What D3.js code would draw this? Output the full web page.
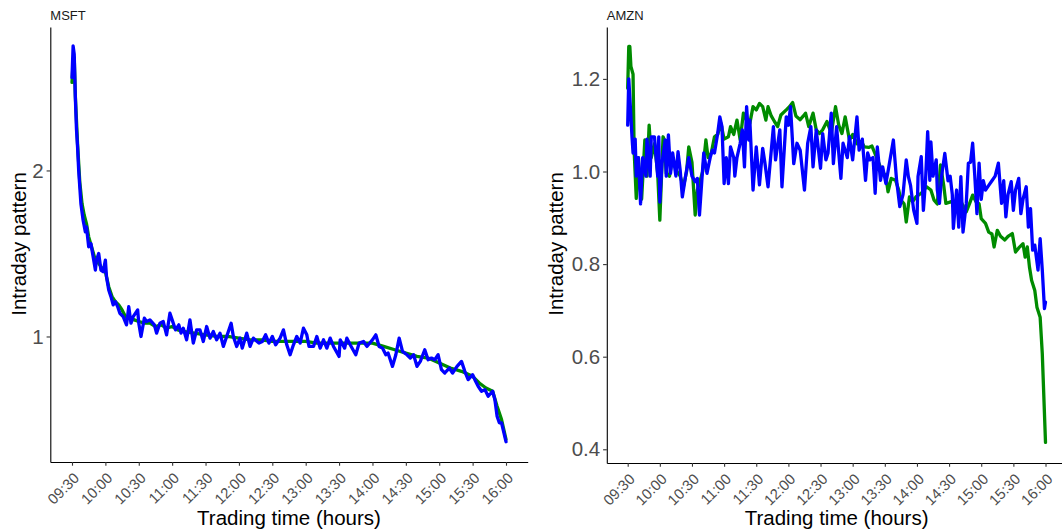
<!DOCTYPE html>
<html>
<head>
<meta charset="utf-8">
<script src="https://cdn.jsdelivr.net/npm/d3@7"></script>
<style>
  html, body { margin: 0; padding: 0; background: #fff; }
  svg { display: block; font-family: "Liberation Sans", Arial, sans-serif; }
</style>
</head>
<body>
<svg id="chart" width="1062" height="531"></svg>
<script>
// ---------------- data (minutes after 09:30, value) ----------------
const tickLabels = ["09:30","10:00","10:30","11:00","11:30","12:00","12:30","13:00","13:30","14:00","14:30","15:00","15:30","16:00"];
const panelNames = ["MSFT", "AMZN"];
const msftTicks = [1, 2];
const amznTicks = [0.4, 0.6, 0.8, 1.0, 1.2];

const msftGreen = [[0,2.53],[1,2.65],[2,2.68],[3,2.45],[5,2.16],[7,1.93],[9,1.80],[11,1.73],[13,1.68],[15,1.60],[18,1.53],[21,1.46],[24,1.44],[27,1.41],[30,1.39],[33,1.30],[36,1.24],[39,1.21],[42,1.19],[45,1.16],[48,1.12],[52,1.11],[56,1.10],[60,1.09],[65,1.08],[70,1.08],[75,1.06],[80,1.07],[85,1.05],[90,1.06],[95,1.04],[100,1.03],[110,1.02],[120,1.01],[130,1.00],[140,1.00],[150,0.99],[160,0.98],[170,0.98],[180,0.97],[190,0.97],[200,0.97],[210,0.97],[220,0.96],[230,0.96],[240,0.96],[250,0.96],[260,0.96],[270,0.96],[280,0.94],[290,0.92],[300,0.90],[310,0.88],[320,0.87],[330,0.84],[340,0.81],[350,0.79],[360,0.76],[366,0.72],[372,0.69],[378,0.67],[382,0.58],[386,0.50],[390,0.38]];

const msftBlue = [[0,2.56],[1,2.75],[2,2.70],[3,2.44],[4,2.25],[5,2.14],[6,2.00],[8,1.80],[10,1.70],[12,1.63],[13,1.66],[15,1.54],[17,1.56],[18,1.52],[21,1.40],[22,1.46],[24,1.50],[26,1.40],[28,1.39],[30,1.46],[31,1.36],[33,1.28],[35,1.24],[37,1.19],[39,1.21],[41,1.18],[43,1.14],[46,1.12],[49,1.07],[51,1.18],[53,1.08],[55,1.12],[59,1.16],[60,1.08],[62,1.00],[65,1.11],[67,1.09],[70,1.10],[74,1.07],[76,1.02],[79,1.08],[82,1.09],[85,1.01],[88,1.14],[90,1.10],[93,1.04],[96,1.07],[98,1.02],[100,1.05],[103,0.98],[106,1.10],[109,0.96],[112,1.04],[115,1.04],[118,0.97],[121,1.06],[124,0.99],[127,1.03],[130,0.98],[133,1.02],[136,0.94],[139,1.00],[143,1.08],[145,1.00],[148,0.94],[151,0.99],[153,0.93],[157,1.02],[160,0.94],[163,0.99],[168,0.96],[171,0.97],[174,1.01],[177,0.96],[180,1.00],[183,0.95],[187,0.99],[190,1.04],[193,0.95],[196,0.89],[199,0.95],[202,1.00],[205,0.96],[208,1.05],[211,1.01],[213,0.94],[217,0.94],[220,1.00],[223,0.93],[226,0.98],[229,0.93],[232,0.99],[235,0.94],[240,0.88],[241,0.98],[245,0.93],[247,0.99],[250,0.95],[255,0.89],[258,0.96],[262,0.97],[265,0.94],[270,0.98],[273,1.01],[276,0.94],[279,0.93],[282,0.89],[284,0.90],[288,0.82],[291,0.89],[294,0.99],[297,0.91],[301,0.89],[304,0.87],[307,0.89],[310,0.82],[313,0.85],[317,0.92],[320,0.86],[323,0.87],[326,0.86],[329,0.89],[332,0.80],[335,0.78],[339,0.81],[342,0.78],[346,0.82],[350,0.85],[353,0.79],[356,0.74],[360,0.77],[362,0.74],[365,0.70],[368,0.67],[371,0.68],[374,0.64],[378,0.67],[380,0.62],[382,0.52],[384,0.48],[386,0.48],[390,0.366]];

const amznGreen = [[0,1.18],[1,1.27],[2,1.27],[3,1.227],[5,1.21],[6,1.046],[8,0.942],[10,1.03],[11,0.974],[13,0.94],[16,1.068],[18,0.99],[20,1.10],[22,1.03],[25,1.06],[28,0.996],[30,0.895],[33,1.075],[34,1.07],[36,0.996],[39,0.99],[42,1.03],[46,1.0],[49,0.99],[52,0.967],[55,1.0],[57,1.053],[60,1.02],[63,0.906],[65,0.96],[67,0.975],[70,1.0],[73,1.068],[75,1.03],[78,1.04],[81,1.075],[84,1.08],[87,1.104],[90,1.07],[94,1.075],[96,1.097],[99,1.08],[102,1.111],[105,1.068],[108,1.126],[111,1.11],[114,1.104],[117,1.14],[120,1.133],[123,1.147],[126,1.14],[129,1.111],[131,1.14],[134,1.12],[137,1.108],[140,1.097],[143,1.122],[148,1.133],[151,1.14],[154,1.149],[157,1.12],[161,1.112],[164,1.12],[166,1.126],[169,1.097],[173,1.126],[176,1.09],[179,1.082],[182,1.09],[186,1.108],[190,1.082],[194,1.14],[197,1.10],[200,1.082],[203,1.118],[207,1.068],[210,1.08],[214,1.06],[218,1.065],[221,1.053],[225,1.052],[228,1.055],[232,1.032],[237,1.003],[241,0.99],[243,0.956],[246,0.985],[250,0.981],[253,0.96],[255,0.938],[258,0.93],[260,0.891],[263,0.945],[266,0.935],[269,0.945],[274,0.953],[279,0.967],[283,0.96],[286,0.938],[289,0.93],[292,1.014],[295,0.97],[297,0.931],[302,0.935],[307,0.924],[311,0.935],[316,0.913],[319,0.93],[322,0.949],[325,0.935],[328,0.93],[330,0.898],[334,0.888],[337,0.869],[340,0.865],[342,0.837],[345,0.873],[348,0.86],[352,0.852],[355,0.86],[359,0.866],[362,0.826],[365,0.835],[369,0.844],[371,0.815],[373,0.837],[375,0.794],[377,0.765],[380,0.743],[382,0.707],[385,0.685],[387,0.606],[390,0.415]];

const amznBlue = [[0,1.10],[1,1.20],[2,1.16],[4,1.075],[5,1.04],[7,1.07],[8,0.99],[10,1.03],[12,0.93],[14,1.03],[17,0.99],[18,1.07],[21,0.99],[22,1.075],[25,1.075],[28,0.99],[29,1.075],[30,0.934],[32,1.017],[35,1.068],[36,0.99],[38,1.079],[40,0.996],[42,1.04],[45,0.99],[47,1.043],[49,1.003],[51,0.945],[54,0.99],[57,1.03],[60,0.99],[63,0.978],[65,0.985],[67,0.906],[69,0.974],[71,1.04],[74,0.996],[77,1.03],[79,1.046],[81,1.04],[84,1.082],[86,1.118],[88,1.097],[90,0.974],[92,1.03],[94,0.974],[96,1.053],[99,1.03],[100,0.99],[102,1.03],[105,1.061],[107,1.09],[109,1.01],[111,1.14],[113,1.068],[114,1.111],[117,0.96],[120,1.053],[123,0.971],[126,1.05],[128,1.02],[131,0.967],[136,1.097],[138,1.025],[142,1.09],[144,0.967],[148,1.118],[150,1.10],[152,1.14],[155,1.017],[158,1.061],[161,1.046],[165,0.96],[168,1.061],[171,1.097],[173,1.01],[176,1.09],[180,1.007],[182,1.082],[185,1.025],[187,1.04],[190,1.126],[192,1.017],[195,1.097],[197,1.04],[199,0.985],[201,1.061],[205,1.03],[207,1.075],[210,1.025],[214,1.118],[216,1.046],[219,1.07],[222,0.981],[224,1.04],[226,1.025],[229,1.03],[231,0.953],[233,1.053],[236,0.981],[238,1.01],[241,0.974],[243,1.0],[248,1.068],[251,0.981],[254,0.924],[257,0.95],[260,1.025],[262,0.989],[264,0.97],[267,0.916],[270,0.888],[271,0.989],[274,1.032],[276,0.916],[278,0.98],[280,1.086],[282,0.981],[283,1.064],[285,0.99],[288,1.025],[289,0.96],[291,0.931],[293,0.99],[296,1.039],[299,0.98],[301,0.99],[303,0.95],[304,0.877],[307,0.96],[309,0.88],[311,0.989],[313,0.869],[316,0.93],[318,1.018],[320,1.02],[322,1.061],[324,0.99],[326,0.909],[328,1.018],[330,0.94],[332,0.98],[334,0.96],[337,0.97],[340,0.98],[343,0.99],[346,1.018],[349,0.931],[351,0.98],[353,0.902],[355,0.95],[358,0.978],[360,0.916],[362,0.96],[365,0.985],[367,0.909],[369,0.94],[372,0.967],[374,0.88],[376,0.92],[378,0.83],[380,0.841],[383,0.787],[385,0.855],[387,0.787],[389,0.704],[390,0.718]];

// ---------------- drawing ----------------
const toMin = s => { const [h, m] = s.split(":").map(Number); return h * 60 + m - 570; };
const tickMins = tickLabels.map(toMin);

const svg = d3.select("#chart");
const panels = [
  { name: panelNames[0], green: msftGreen, blue: msftBlue, ticks: msftTicks, fmt: d3.format("d"),
    xr: [50.3, 527.7], yr: [462, 27], yd: [0.244, 2.864], ytitleX: 26 },
  { name: panelNames[1], green: amznGreen, blue: amznBlue, ticks: amznTicks, fmt: d3.format(".1f"),
    xr: [606.8, 1066.4], yr: [463, 27], yd: [0.3704, 1.3121], ytitleX: 563 }
];

const tickColor = "#4d4d4d";

panels.forEach(p => {
  const x = d3.scaleLinear().domain([-19.5, 409.5]).range(p.xr);
  const y = d3.scaleLinear().domain(p.yd).range(p.yr);
  const g = svg.append("g");

  const line = d3.line().x(d => x(d[0])).y(d => y(d[1])).curve(d3.curveLinear);
  g.append("path").datum(p.green).attr("d", line)
    .attr("fill", "none").attr("stroke", "#008B00").attr("stroke-width", 3.3)
    .attr("stroke-linejoin", "round").attr("stroke-linecap", "round");
  g.append("path").datum(p.blue).attr("d", line)
    .attr("fill", "none").attr("stroke", "#0000FF").attr("stroke-width", 3.3)
    .attr("stroke-linejoin", "round").attr("stroke-linecap", "round");

  // x axis
  const xa = g.append("g").attr("transform", `translate(0,${p.yr[0]})`)
    .call(d3.axisBottom(x).tickValues(tickMins).tickFormat((d, i) => tickLabels[i])
      .tickSize(3.7).tickSizeOuter(0));
  xa.select(".domain").attr("stroke", "#000").attr("stroke-width", 1.1);
  xa.selectAll(".tick line").attr("stroke", "#333").attr("stroke-width", 1.1);
  xa.selectAll(".tick text")
    .attr("x", 0).attr("y", 0).attr("dy", "0.72em")
    .attr("transform", "translate(0,9.5) rotate(-45)")
    .attr("text-anchor", "end")
    .attr("fill", tickColor).style("font-size", "14.8px");

  // y axis
  const ya = g.append("g").attr("transform", `translate(${p.xr[0]},0)`)
    .call(d3.axisLeft(y).tickValues(p.ticks).tickFormat(p.fmt).tickSize(3.7).tickPadding(2.9).tickSizeOuter(0));
  ya.select(".domain").attr("stroke", "#000").attr("stroke-width", 1.1);
  ya.selectAll(".tick line").attr("stroke", "#333").attr("stroke-width", 1.1);
  ya.selectAll(".tick text").attr("fill", tickColor).style("font-size", "20.5px");

  // titles
  g.append("text").attr("x", p.xr[0]).attr("y", 19.5).text(p.name)
    .style("font-size", "13px").attr("fill", "#1a1a1a");
  g.append("text").attr("x", (p.xr[0] + p.xr[1]) / 2).attr("y", 525)
    .attr("text-anchor", "middle").style("font-size", "20.5px").attr("fill", "#000")
    .text("Trading time (hours)");
  g.append("text").attr("transform", `translate(${p.ytitleX},244) rotate(-90)`)
    .attr("text-anchor", "middle").style("font-size", "20.5px").attr("fill", "#000")
    .text("Intraday pattern");
});
</script>
</body>
</html>
